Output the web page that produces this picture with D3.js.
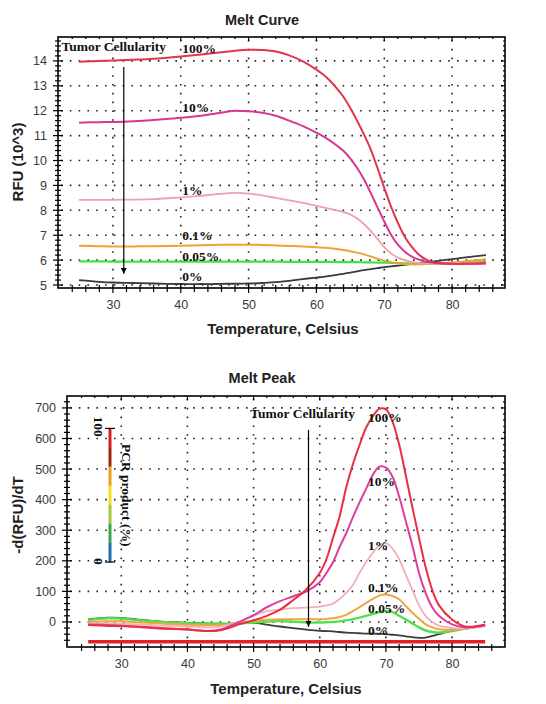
<!DOCTYPE html>
<html><head><meta charset="utf-8">
<script src="https://cdn.jsdelivr.net/npm/d3@7/dist/d3.min.js"></script>
<style>body{margin:0;background:#fff;} svg{display:block;}</style>
</head><body><svg id="c" width="546" height="704"></svg>
<script>
// ---------- DATA ----------
const temps = [25,28,30,33,36,40,43,45,47,48,50,52,54,56,58,60,61,62,63,64,65,66,67,68,69,70,71,72,73,74,75,76,77,78,80,82,85];
const seriesLabels = ["100%","10%","1%","0.1%","0.05%","0%"];

// Melt Curve, RFU (10^3)
const curve100 = [13.97,14.0,14.02,14.05,14.09,14.18,14.26,14.32,14.38,14.41,14.45,14.44,14.38,14.22,13.98,13.65,13.45,13.2,12.9,12.55,12.1,11.6,11.05,10.45,9.7,8.9,8.15,7.5,6.95,6.55,6.25,6.05,5.93,5.88,5.85,5.85,5.87];
const curve10  = [11.52,11.54,11.55,11.58,11.63,11.72,11.8,11.88,11.97,12.0,11.98,11.92,11.8,11.6,11.38,11.12,10.97,10.8,10.6,10.38,10.08,9.7,9.25,8.7,8.12,7.55,7.02,6.62,6.35,6.15,6.03,5.95,5.9,5.87,5.85,5.85,5.86];
const curve1   = [8.42,8.42,8.42,8.43,8.45,8.52,8.58,8.64,8.69,8.7,8.67,8.6,8.5,8.4,8.3,8.18,8.12,8.06,8.0,7.93,7.83,7.67,7.45,7.17,6.85,6.52,6.27,6.1,6.0,5.93,5.89,5.87,5.86,5.86,5.87,5.88,5.9];
const curve01  = [6.58,6.56,6.55,6.55,6.56,6.58,6.6,6.61,6.62,6.62,6.62,6.61,6.59,6.57,6.55,6.52,6.5,6.48,6.45,6.41,6.36,6.3,6.23,6.15,6.06,5.98,5.92,5.87,5.84,5.83,5.83,5.84,5.85,5.86,5.9,5.95,6.03];
const curve005 = [5.95,5.95,5.94,5.94,5.94,5.94,5.94,5.94,5.94,5.94,5.94,5.94,5.94,5.93,5.93,5.93,5.93,5.93,5.92,5.92,5.92,5.92,5.91,5.91,5.9,5.9,5.89,5.88,5.87,5.86,5.85,5.85,5.85,5.86,5.88,5.9,5.93];
const curve0   = [5.2,5.13,5.1,5.08,5.06,5.04,5.04,5.04,5.05,5.05,5.06,5.08,5.12,5.17,5.24,5.3,5.33,5.37,5.41,5.45,5.5,5.55,5.6,5.64,5.68,5.72,5.75,5.78,5.81,5.85,5.88,5.91,5.94,5.97,6.04,6.11,6.2];

// Melt Peak, -d(RFU)/dT
const peak100 = [-10,-13,-14,-16,-20,-25,-30,-27,-14,-6,5,20,40,72,107,160,205,275,345,440,515,578,635,672,697,695,655,580,480,375,275,180,105,55,8,-15,-8];
const peak10  = [-8,-10,-12,-17,-22,-25,-30,-25,-8,2,22,48,68,84,100,130,160,195,245,290,342,390,435,480,508,505,475,410,330,250,160,95,48,20,-8,-18,-12];
const peak1   = [-5,-5,-6,-8,-12,-15,-18,-15,-5,2,20,35,40,45,47,50,54,60,75,95,120,160,195,225,250,258,240,205,155,105,55,20,0,-12,-20,-22,-12];
const peak01  = [0,2,2,-2,-5,-10,-11,-11,-5,-1,3,7,9,9,9,9,10,12,16,23,35,48,62,75,86,90,85,74,52,30,10,-8,-18,-24,-26,-22,-12];
const peak005 = [6,12,11,5,0,-4,-6,-6,-5,-4,-2,1,3,1,-2,-2,-1,0,2,5,9,14,20,26,32,36,32,20,8,-5,-18,-28,-33,-35,-30,-22,-12];
const peak0   = [8,14,13,7,1,-3,-5,-6,-6,-5,-3,-9,-15,-20,-25,-29,-30,-31,-33,-35,-36,-37,-38,-38,-39,-40,-42,-44,-47,-50,-52,-51,-46,-40,-28,-22,-12];
const thresholdLine = [-65, -65];       // red baseline
const thresholdTemps = [25, 85];

const xTicks = [30,40,50,60,70,80];
const curveYTicks = [5,6,7,8,9,10,11,12,13,14];
const peakYTicks = [0,100,200,300,400,500,600,700];
const legendTicks = ["100","0"];
const legendColors = ["#d42020","#9a2a10","#e8a020","#f2e020","#a6c83c","#3aa648","#1f6fb0"];

const curveColors = ["#e2344f","#d9378f","#eaa3ab","#f0a236","#3ee33e","#3a3a3a"];
const peakColors  = ["#e8303f","#e03c9c","#f0b0b4","#f0a442","#4ee34e","#3c3c3c"];

// ---------- DRAW ----------
const svg = d3.select("#c");
svg.append("rect").attr("width",546).attr("height",704).attr("fill","#fff");
const defs = svg.append("defs");
defs.append("marker").attr("id","arr").attr("viewBox","0 0 10 10").attr("refX",10).attr("refY",5)
  .attr("markerWidth",6).attr("markerHeight",6).attr("orient","auto").attr("markerUnits","userSpaceOnUse")
  .append("path").attr("d","M0,0L10,5L0,10Z").attr("fill","#000");

const SERIF = "'Liberation Serif','Times New Roman',serif";
const SANS = "'Liberation Sans',Arial,sans-serif";

function panel(o){
  const g = svg.append("g");
  const x = d3.scaleLinear().domain(o.xDom).range([o.left,o.right]);
  const y = d3.scaleLinear().domain(o.yDom).range([o.bottom,o.top]);
  // grid
  const grid = g.append("g").attr("stroke","#222").attr("stroke-width",1.6).attr("stroke-dasharray","1.6,7.2");
  xTicks.forEach(v=>grid.append("line").attr("x1",x(v)).attr("x2",x(v)).attr("y1",o.top+3).attr("y2",o.bottom));
  o.yTicks.forEach(v=>grid.append("line").attr("y1",y(v)).attr("y2",y(v)).attr("x1",o.left+3).attr("x2",o.right));
  // series
  const line = d3.line().x((d,i)=>x(temps[i])).y(d=>y(d)).curve(d3.curveCatmullRom.alpha(0.5));
  if(o.extra) o.extra(g,x,y);
  for(let k=o.series.length-1;k>=0;k--){
    g.append("path").datum(o.series[k]).attr("d",line).attr("fill","none")
     .attr("stroke",o.colors[k]).attr("stroke-width",o.widths[k]).attr("stroke-linejoin","round");
  }
  // frame
  g.append("rect").attr("x",o.left).attr("y",o.top).attr("width",o.right-o.left).attr("height",o.bottom-o.top)
   .attr("fill","none").attr("stroke","#000").attr("stroke-width",1.6);
  // ticks
  const tk = g.append("g").attr("stroke","#000").attr("stroke-width",1.2);
  const xMinor = d3.range(24,88,2);
  xMinor.forEach(v=>{ if(x(v)<=o.left+1||x(v)>=o.right-1) return;
    const maj = v%10===0;
    tk.append("line").attr("x1",x(v)).attr("x2",x(v)).attr("y1",o.bottom-(maj?4:3)).attr("y2",o.bottom+(maj?5:4));
    tk.append("line").attr("x1",x(v)).attr("x2",x(v)).attr("y1",o.top).attr("y2",o.top+(maj?4:2));
  });
  d3.range(o.yDom[0],o.yDom[1],o.yMinor).forEach(v0=>{
    const v = Math.round(v0/o.yMinor)*o.yMinor;
    if(y(v)>=o.bottom-1||y(v)<=o.top+1) return;
    const maj = o.yTicks.some(t=>Math.abs(t-v)<1e-6);
    tk.append("line").attr("y1",y(v)).attr("y2",y(v)).attr("x1",o.left-(maj?5:3)).attr("x2",o.left+(maj?5:3));
    tk.append("line").attr("y1",y(v)).attr("y2",y(v)).attr("x1",o.right-(maj?4:2)).attr("x2",o.right);
  });
  // tick labels via axes
  const ax = g.append("g").attr("transform",`translate(0,${o.bottom})`)
    .call(d3.axisBottom(x).tickValues(xTicks).tickSize(0).tickPadding(12));
  const ay = g.append("g").attr("transform",`translate(${o.left},0)`)
    .call(d3.axisLeft(y).tickValues(o.yTicks).tickSize(0).tickPadding(11));
  [ax,ay].forEach(a=>{a.select(".domain").remove();
    a.selectAll("text").attr("font-family",SANS).attr("font-size",12.5).attr("fill","#3a3a3a");});
  // titles
  g.append("text").attr("x",262).attr("y",o.titleY).attr("text-anchor","middle").attr("font-family",SANS)
   .attr("font-weight","bold").attr("font-size",14.5).attr("fill","#222").text(o.title);
  g.append("text").attr("x",o.xLabelX).attr("y",o.xLabelY).attr("text-anchor","middle").attr("font-family",SANS)
   .attr("font-weight","bold").attr("font-size",15).attr("fill","#222").text("Temperature, Celsius");
  g.append("text").attr("transform",`translate(${o.yLabelX},${o.yLabelCY}) rotate(-90)`).attr("text-anchor","middle")
   .attr("font-family",SANS).attr("font-weight","bold").attr("font-size",15).attr("fill","#222").text(o.yLabel);
  // annotations
  const ann = g.append("g").attr("font-family",SERIF).attr("font-weight","bold").attr("font-size",13.5).attr("fill","#111");
  ann.append("text").attr("x",x(o.tcPos[0])).attr("y",y(o.tcPos[1])).text("Tumor Cellularity");
  seriesLabels.forEach((s,i)=>ann.append("text").attr("x",x(o.labT)).attr("y",y(o.labV[i])).text(s));
  g.append("line").attr("x1",x(o.arrow[0])).attr("x2",x(o.arrow[0])).attr("y1",y(o.arrow[1])).attr("y2",y(o.arrow[2]))
   .attr("stroke","#000").attr("stroke-width",1.2).attr("marker-end","url(#arr)");
  return {g,x,y};
}

panel({
  left:58,right:505,top:37,bottom:288,xDom:[21.9,87.8],yDom:[4.88,14.96],yTicks:curveYTicks,yMinor:0.2,
  series:[curve100,curve10,curve1,curve01,curve005,curve0],colors:curveColors,widths:[2,2,1.8,2,2.2,1.8],
  title:"Melt Curve",titleY:25,xLabelX:283,xLabelY:334,yLabel:"RFU (10^3)",yLabelX:23,yLabelCY:162,
  tcPos:[22.4,14.38],labT:40.2,labV:[14.33,11.93,8.6,6.79,5.98,5.18],arrow:[31.6,13.76,5.45]
});

panel({
  left:67,right:505,top:396,bottom:647,xDom:[21.8,88.0],yDom:[-82,739],yTicks:peakYTicks,yMinor:20,
  series:[peak100,peak10,peak1,peak01,peak005,peak0],colors:peakColors,widths:[2,2,1.8,2,2.4,1.8],
  title:"Melt Peak",titleY:383,xLabelX:286,xLabelY:694,yLabel:"-d(RFU)/dT",yLabelX:23,yLabelCY:515,
  tcPos:[49.5,667],labT:67.3,labV:[655,446,236,98,29,-43],arrow:[58.3,628,-16],
  extra:(g,x,y)=>{
    g.append("path").datum(thresholdLine).attr("fill","none").attr("stroke","#e31e24").attr("stroke-width",3.5)
     .attr("d",d3.line().x((d,i)=>x(thresholdTemps[i])).y(d=>y(d)));
    // colour legend bar
    const lx = x(28.3), top = y(633), bot = y(196);
    const seg = d3.scaleLinear().domain([0,legendColors.length]).range([top,bot]);
    legendColors.forEach((c,i)=>g.append("rect").attr("x",lx-1.5).attr("width",3).attr("y",seg(i)).attr("height",seg(i+1)-seg(i)+0.3).attr("fill",c));
    g.append("line").attr("x1",lx-5).attr("x2",lx+5).attr("y1",top).attr("y2",top).attr("stroke","#000").attr("stroke-width",1.2);
    g.append("line").attr("x1",lx-5).attr("x2",lx+5).attr("y1",bot).attr("y2",bot).attr("stroke","#000").attr("stroke-width",1.2);
    const lt = g.append("g").attr("font-family",SERIF).attr("font-weight","bold").attr("font-size",13.5).attr("fill","#111");
    lt.append("text").attr("transform",`translate(${lx-16},${top-12}) rotate(90)`).text(legendTicks[0]);
    lt.append("text").attr("transform",`translate(${lx-16},${bot-4}) rotate(90)`).text(legendTicks[1]);
    lt.append("text").attr("transform",`translate(${lx+12},${(top+bot)/2}) rotate(90)`).attr("text-anchor","middle").text("PCR product (%)");
  }
});
</script></body></html>
